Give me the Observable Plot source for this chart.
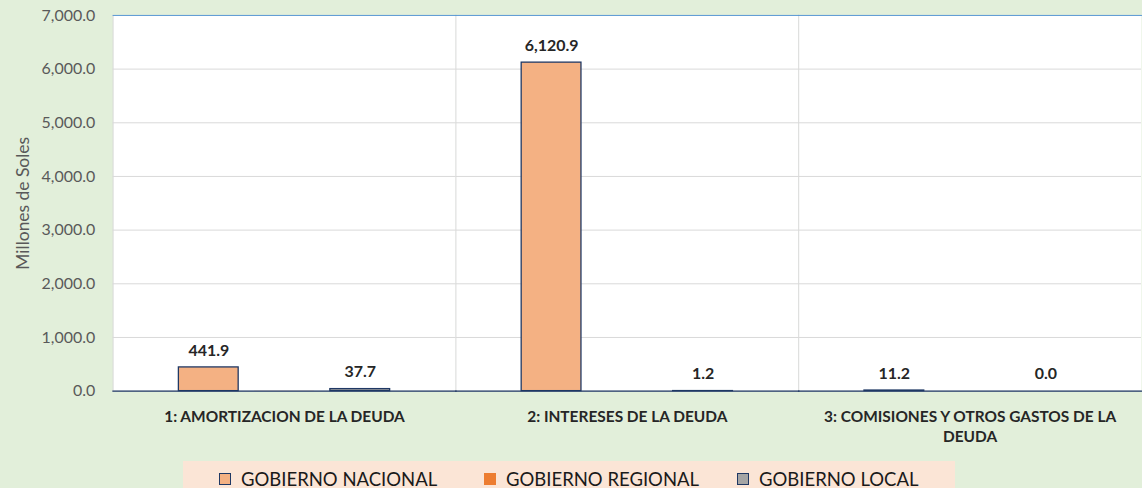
<!DOCTYPE html>
<html><head><meta charset="utf-8">
<script src="https://cdn.jsdelivr.net/npm/d3@7"></script>
<script src="https://cdn.jsdelivr.net/npm/@observablehq/plot@0.6"></script>
<style>
html,body{margin:0;padding:0;background:#e2efda;overflow:hidden;width:1142px;height:488px;font-family:Lato, sans-serif;}
#chart{position:absolute;left:0;top:0;}
#legend{position:absolute;left:183px;top:461px;width:772px;height:30px;background:#fbe5d6;}
.item{position:absolute;top:8px;display:flex;align-items:center;font-size:18.5px;line-height:20px;color:#1a1a1a;white-space:nowrap;}
.sw{width:12px;height:12px;margin-right:10px;box-sizing:border-box;}
</style></head>
<body>
<div id="chart"></div>
<div id="legend"></div>
<script>
const categories = ["1: AMORTIZACION DE LA DEUDA", "2: INTERESES DE LA DEUDA", "3: COMISIONES Y OTROS GASTOS DE LA DEUDA"];
const categoryLabels = ["1: AMORTIZACION DE LA DEUDA", "2: INTERESES DE LA DEUDA", "3: COMISIONES Y OTROS GASTOS DE LA\nDEUDA"];
const series = ["GOBIERNO NACIONAL", "GOBIERNO REGIONAL", "GOBIERNO LOCAL"];
const nacional = [441.9, 6120.9, 11.2];
const regional = [2.0, 0.0, 0.0];
const local = [37.7, 1.2, 0.0];
const yTicks = [0, 1000, 2000, 3000, 4000, 5000, 6000, 7000];
const yLabel = "Millones de Soles";

const fills = ["#f4b183", "#ed7d31", "#a5a5a5"];
const strokes = ["#1f3864", "none", "#1f3864"];
const seriesValues = [nacional, regional, local];
const rows = [];
series.forEach((s, si) => categories.forEach((c, ci) => rows.push({cat: c, series: s, si, value: seriesValues[si][ci]})));
const labelMap = new Map(categories.map((c, i) => [c, categoryLabels[i]]));
const fmt = d3.format(",.1f");

const chart = Plot.plot({
  width: 1146, height: 455,
  marginLeft: 112, marginRight: 0, marginTop: 15, marginBottom: 63,
  style: {background: "transparent", fontFamily: "Lato, sans-serif", overflow: "visible"},
  fx: {domain: categories, padding: 0, label: null},
  x: {domain: series, paddingInner: 0.208, paddingOuter: 0.844, axis: null},
  y: {domain: [0, 7000]},
  marks: [
    Plot.frame({fill: "white", stroke: "none"}),
    Plot.gridY(yTicks, {stroke: "#d9d9d9", strokeOpacity: 1}),
    Plot.frame({anchor: "left", stroke: "#d9d9d9", strokeOpacity: 1}),
    Plot.frame({anchor: "top", stroke: "#5b9bd5", strokeOpacity: 1}),
    ...series.map((s, si) => Plot.barY(rows.filter(r => r.si === si), {
      fx: "cat", x: "series", y: "value", fill: fills[si], stroke: strokes[si], strokeWidth: 1.3
    })),
    Plot.axisY({ticks: yTicks, tickFormat: fmt, tickSize: 0, tickPadding: 18, fontSize: 16,
      fill: "#595959", stroke: "#5b9bd5", line: true, label: null}),
    Plot.axisY({ticks: [], tickSize: 0, fontSize: 17.5, fill: "#595959", stroke: "none",
      label: yLabel, labelAnchor: "center", labelArrow: "none", labelOffset: 97}),
    Plot.axisFx({anchor: "bottom", tickSize: 0, tickPadding: 17, fontSize: 15.5, fontWeight: "bold", fill: "#262626",
      tickFormat: d => labelMap.get(d), label: null, lineHeight: 1.3}),
    Plot.frame({anchor: "bottom", stroke: "#1f3864", strokeOpacity: 1, strokeWidth: 1.5}),
    Plot.text(rows.filter(r => r.si !== 1), {fx: "cat", x: "series", y: "value", text: d => fmt(d.value),
      dy: -17, fontWeight: "bold", fontSize: 16, fill: "#262626"})
  ]
});
document.getElementById("chart").appendChild(chart);

const legend = document.getElementById("legend");
const lefts = [36, 301, 554];
series.forEach((s, i) => {
  const it = document.createElement("div");
  it.className = "item";
  it.style.left = lefts[i] + "px";
  const sw = document.createElement("span");
  sw.className = "sw";
  sw.style.background = fills[i];
  sw.style.border = strokes[i] === "none" ? "none" : "1.5px solid " + strokes[i];
  it.appendChild(sw);
  it.appendChild(document.createTextNode(s));
  legend.appendChild(it);
});
</script>
</body></html>
